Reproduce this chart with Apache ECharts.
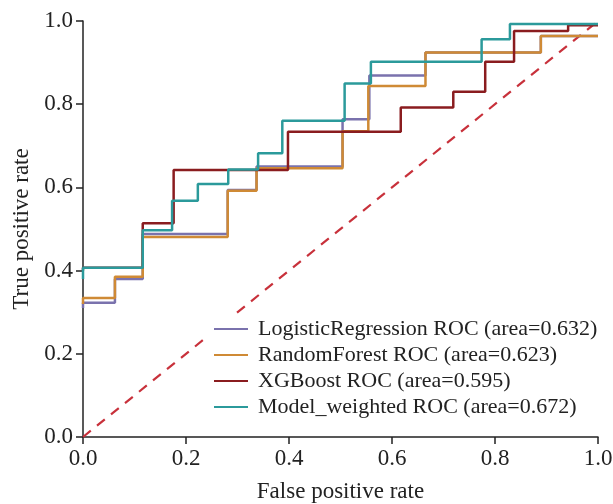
<!DOCTYPE html>
<html>
<head>
<meta charset="utf-8">
<script src="https://cdn.jsdelivr.net/npm/echarts@6/dist/echarts.min.js"></script>
<style>
  html, body { margin: 0; padding: 0; background: #fff; }
  #main { width: 613px; height: 504px; }
</style>
</head>
<body>
<div id="main"></div>
<script>
  // ROC 曲线数据 [fpr, tpr]
  const lrRoc = [[0, 0.31], [0, 0.323], [0.062, 0.323], [0.062, 0.38], [0.116, 0.38], [0.116, 0.488],
    [0.281, 0.488], [0.281, 0.594], [0.337, 0.594], [0.337, 0.65], [0.504, 0.65], [0.504, 0.764],
    [0.556, 0.764], [0.556, 0.869], [0.665, 0.869], [0.665, 0.924], [0.889, 0.924], [0.889, 0.964], [1, 0.964]];
  const rfRoc = [[0, 0.32], [0, 0.334], [0.062, 0.334], [0.062, 0.385], [0.116, 0.385], [0.116, 0.481],
    [0.281, 0.481], [0.281, 0.592], [0.337, 0.592], [0.337, 0.646], [0.504, 0.646], [0.504, 0.735],
    [0.554, 0.735], [0.554, 0.844], [0.665, 0.844], [0.665, 0.924], [0.889, 0.924], [0.889, 0.964], [1, 0.964]];
  const xgbRoc = [[0, 0.4], [0, 0.407], [0.116, 0.407], [0.116, 0.514], [0.176, 0.514], [0.176, 0.642],
    [0.398, 0.642], [0.398, 0.734], [0.617, 0.734], [0.617, 0.792], [0.719, 0.792], [0.719, 0.83],
    [0.781, 0.83], [0.781, 0.902], [0.837, 0.902], [0.837, 0.976], [0.942, 0.976], [0.942, 0.99], [1, 0.99]];
  const mwRoc = [[0, 0.38], [0, 0.407], [0.116, 0.407], [0.116, 0.497], [0.173, 0.497], [0.173, 0.568],
    [0.223, 0.568], [0.223, 0.608], [0.282, 0.608], [0.282, 0.643], [0.34, 0.643], [0.34, 0.682],
    [0.387, 0.682], [0.387, 0.76], [0.508, 0.76], [0.508, 0.85], [0.559, 0.85], [0.559, 0.902],
    [0.774, 0.902], [0.774, 0.956], [0.829, 0.956], [0.829, 0.993], [1, 0.993]];
  const chanceLine = [[0, 0], [1, 1]];

  const seriesNames = [
    'LogisticRegression ROC (area=0.632)',
    'RandomForest ROC (area=0.623)',
    'XGBoost ROC (area=0.595)',
    'Model_weighted ROC (area=0.672)'
  ];
  const seriesColors = ['#7a72ad', '#cf8a35', '#8a1c1f', '#2b9a9b'];
  const axisTicks = [0, 0.2, 0.4, 0.6, 0.8, 1.0];

  const serif = "'Liberation Serif', 'DejaVu Serif', serif";

  const chart = echarts.init(document.getElementById('main'), null, { renderer: 'canvas' });

  function rocSeries(name, data, color) {
    return {
      name: name,
      type: 'line',
      data: data,
      symbol: 'none',
      animation: false,
      lineStyle: { color: color, width: 2.5 },
      itemStyle: { color: color }
    };
  }

  const axisCommon = {
    type: 'value',
    min: axisTicks[0],
    max: axisTicks[axisTicks.length - 1],
    interval: 0.2,
    nameLocation: 'middle',
    nameTextStyle: { fontFamily: serif, fontSize: 23, color: '#222' },
    axisLine: { show: true, lineStyle: { color: '#222', width: 1.5 } },
    axisTick: { show: true, inside: false, length: 7, lineStyle: { color: '#222', width: 1.5 } },
    axisLabel: {
      fontFamily: serif, fontSize: 23, color: '#222',
      formatter: v => v.toFixed(1)
    },
    splitLine: { show: false }
  };

  const option = {
    backgroundColor: '#fff',
    animation: false,
    grid: { left: 83, right: 15, top: 21, bottom: 67, outerBoundsMode: 'none', containLabel: false },
    xAxis: Object.assign({}, axisCommon, {
      name: 'False positive rate',
      nameGap: 43,
      axisLabel: Object.assign({}, axisCommon.axisLabel, { margin: 10 })
    }),
    yAxis: Object.assign({}, axisCommon, {
      name: 'True positive rate',
      nameGap: 47,
      axisLabel: Object.assign({}, axisCommon.axisLabel, { margin: 10 })
    }),
    legend: {
      orient: 'vertical',
      left: 208,
      top: 314,
      data: seriesNames,
      icon: 'rect',
      itemWidth: 34,
      itemHeight: 1.8,
      itemGap: 4,
      padding: [4, 6, 4, 6],
      backgroundColor: '#fff',
      textStyle: { fontFamily: serif, fontSize: 22, color: '#222', lineHeight: 22, padding: [0, 0, 0, 5] }
    },
    series: [
      {
        name: 'chance',
        type: 'line',
        data: chanceLine,
        symbol: 'none',
        silent: true,
        lineStyle: { color: '#c8313b', width: 2.2, type: [10, 8] },
        z: 1
      },
      rocSeries(seriesNames[0], lrRoc, seriesColors[0]),
      rocSeries(seriesNames[1], rfRoc, seriesColors[1]),
      rocSeries(seriesNames[2], xgbRoc, seriesColors[2]),
      rocSeries(seriesNames[3], mwRoc, seriesColors[3])
    ]
  };

  chart.setOption(option);
</script>
</body>
</html>
